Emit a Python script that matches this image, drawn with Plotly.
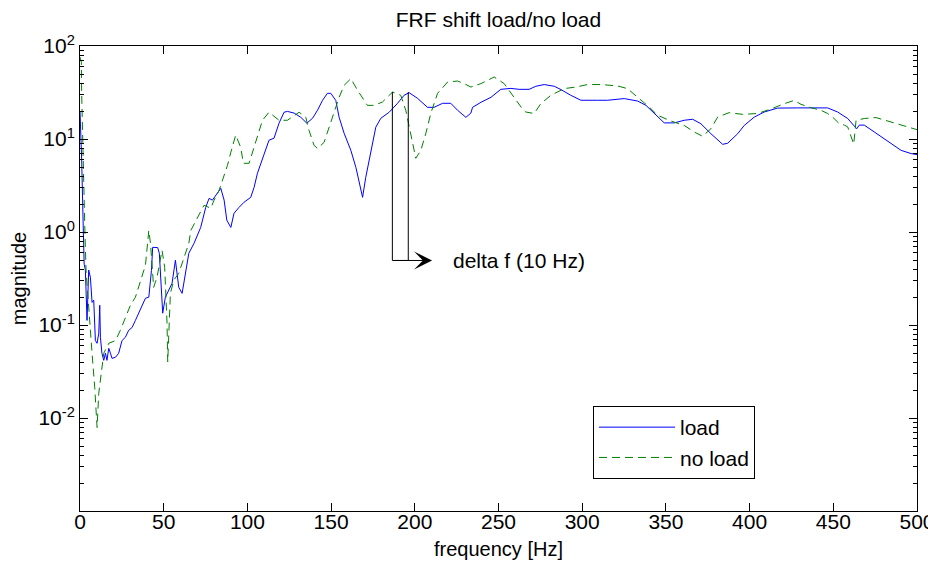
import math
import plotly.graph_objects as go

# ---- data ----
freq_load = [0, 1, 2, 2.5, 3.2, 4.2, 5.2, 6.2, 7.2, 8.2, 9.2, 10.2, 11.2, 11.8, 12.2, 13.1, 14.2,
             15.2, 16.1, 17.2, 18.2, 19.1, 21.2, 23.1, 25.1, 27.1, 29.1, 31.1, 33.1, 35.1, 37.1,
             39.1, 41.1, 42.7, 43.4, 45.1, 46.4, 47.4, 48.4, 49.4, 51.0, 53.0, 55.0, 57.0, 59.0,
             61.0, 63.0, 65.0, 68.1, 72.1, 75.1, 77.1, 79.1, 81.1, 84.1, 86.1, 87.7, 90.1, 92.0,
             95.0, 98.0, 102.0, 104.0, 106.0, 108.0, 111.0, 112.9, 115.9, 118.9, 121.9, 123.9,
             127.9, 131.9, 135.5, 138.9, 141.9, 144.9, 147.8, 149.8, 152.8, 154.8, 157.8, 161.8,
             164.8, 166.7, 168.8, 170.7, 173.7, 176.7, 179.7, 184.7, 189.7, 193.6, 196.6, 201.6,
             207.6, 211.5, 216.6, 221.5, 225.5, 230.5, 233.5, 234.5, 239.5, 245.5, 251.4, 257.4,
             262.3, 268.3, 272.3, 277.3, 283.3, 287.3, 293.2, 299.2, 309.2, 315.2, 325.1, 333.1,
             338.1, 343.0, 349.0, 355.0, 360.9, 366.0, 370.9, 376.9, 383.9, 386.9, 392.9, 396.8,
             402.8, 408.7, 416.7, 428.7, 446.6, 452.6, 458.6, 463.0, 464.0, 465.5, 468.5, 474.5,
             484.5, 490.5, 496.5, 500]
mag_load = [20, 6, 1.0, 0.45, 0.39, 0.112, 0.39, 0.326, 0.175, 0.185, 0.068, 0.0636, 0.0814, 0.163,
            0.0738, 0.0497, 0.0417, 0.0497, 0.0417, 0.0561, 0.0497, 0.0438, 0.045, 0.0497, 0.068,
            0.0738, 0.0877, 0.094, 0.112, 0.134, 0.163, 0.194, 0.199, 0.387, 0.684, 0.68, 0.68,
            0.59, 0.303, 0.134, 0.199, 0.236, 0.281, 0.497, 0.254, 0.219, 0.36, 0.59, 0.755, 1.12,
            1.84, 2.3, 2.2, 2.48, 2.95, 2.2, 1.34, 1.12, 1.59, 1.84, 2.09, 2.36, 3.03, 4.28, 5.48,
            7.55, 9.7, 10.2, 14.8, 19.4, 19.8, 19.0, 17.1, 14.8, 16.7, 20.4, 26.1, 31.0, 31.0, 26.0,
            17.1, 11.5, 7.55, 4.96, 3.34, 2.36, 3.87, 7.55, 13.4, 16.7, 19.4, 24.2, 29.5, 31.5,
            27.4, 21.9, 21.9, 24.2, 24.2, 20.4, 17.1, 19.0, 21.9, 24.8, 28.1, 34.2, 35.0, 34.2,
            34.2, 36.9, 38.5, 36.9, 34.0, 29.5, 26.1, 26.1, 26.1, 27.2, 25.6, 23.0, 18.8, 14.9,
            14.9, 15.9, 16.3, 14.6, 11.4, 8.77, 9.0, 11.4, 14.0, 17.2, 19.5, 21.5, 21.6, 21.6,
            19.5, 16.6, 13.5, 12.9, 14.1, 14.1, 11.9, 8.9, 7.55, 6.97, 6.8]

freq_noload = [0, 0.8, 1.0, 1.2, 1.6, 2.2, 2.6, 2.8, 3.0, 3.6, 5.6, 7.2, 8.8, 9.6, 10.2, 11.2, 12.2,
               13.1, 14.2, 17.2, 21.2, 24.1, 27.1, 30.1, 33.1, 36.1, 39.1, 41.1, 42.1, 44.0, 46.0,
               49.0, 50.6, 52.0, 52.4, 54.0, 56.0, 59.0, 62.0, 65.0, 66.2, 70.2, 74.1, 78.1, 80.1,
               83.1, 85.1, 88.1, 90.1, 93.0, 96.0, 97.6, 101.0, 104.0, 107.0, 109.0, 112.9, 118.9,
               123.9, 130.9, 134.9, 136.8, 139.8, 141.9, 145.8, 148.8, 151.8, 154.8, 157.8, 161.8,
               165.8, 171.7, 175.7, 180.7, 186.7, 191.6, 194.6, 197.6, 199.6, 200.6, 203.6, 206.6,
               209.6, 213.6, 219.6, 225.5, 229.5, 233.5, 239.5, 247.4, 253.4, 259.4, 264.0, 266.3,
               271.3, 275.3, 281.3, 289.2, 296.2, 303.2, 311.2, 321.1, 327.1, 334.0, 340.0, 345.0,
               353.0, 360.9, 366.9, 371.9, 376.9, 380.9, 387.8, 395.8, 404.8, 412.7, 420.7, 426.7,
               430.7, 436.7, 442.6, 446.6, 449.6, 453.6, 456.6, 458.6, 462.2, 463.6, 468.5, 475.5,
               484.5, 492.4, 500]
mag_noload = [76, 67, 31, 20.4, 10.4, 4.96, 2.19, 0.97, 0.9, 0.39, 0.112, 0.0497, 0.0214, 0.0112,
              0.0079, 0.0184, 0.0254, 0.0387, 0.0497, 0.0636, 0.068, 0.0877, 0.121, 0.163, 0.199,
              0.303, 0.439, 1.04, 0.755, 0.254, 0.326, 0.635, 0.417, 0.104, 0.04, 0.219, 0.303, 0.36,
              0.535, 0.755, 1.04, 1.44, 1.94, 1.8, 2.2, 2.81, 3.6, 5.21, 7.2, 11.0, 8.15, 5.48,
              5.48, 8.15, 11.5, 15.9, 19.4, 15.9, 15.9, 19.4, 17.1, 12.4, 8.55, 7.9, 9.2, 13.4, 19.0,
              28.1, 37.8, 44.6, 33.4, 23.0, 23.0, 25.0, 32.0, 29.5, 20.4, 11.5, 7.55, 6.2, 7.55,
              11.5, 19.0, 31.0, 41.0, 42.0, 39.4, 36.2, 39.4, 46.4, 39.4, 28.3, 21.4, 19.5, 18.8,
              24.0, 29.5, 34.8, 36.2, 38.5, 38.5, 37.2, 34.8, 27.2, 22.1, 18.0, 15.6, 14.0, 11.9,
              10.7, 12.9, 17.2, 19.2, 18.4, 18.8, 21.0, 24.0, 26.0, 23.6, 21.7, 20.4, 18.8, 17.2,
              14.6, 14.1, 13.5, 8.8, 15.9, 16.6, 17.0, 15.2, 13.7, 12.6]

series_names = ["load", "no load"]
x_ticks = [0, 50, 100, 150, 200, 250, 300, 350, 400, 450, 500]
y_ticks = [0.01, 0.1, 1, 10, 100]
y_ticktext = ["10<sup>-2</sup>", "10<sup>-1</sup>", "10<sup>0</sup>", "10<sup>1</sup>", "10<sup>2</sup>"]

# delta-f annotation (frequencies in Hz, magnitudes)
delta_f_low = 186.6
delta_f_high = 196.1
delta_top = 32.0
delta_level = 0.494
arrow_tip_f = 210.3
delta_text_f = 221.8
delta_text = "delta f (10 Hz)"

FONT = "Liberation Sans, Arial, Helvetica, sans-serif"

# page body has an 8px margin, so the figure is sized to fit the window
W, H = 928, 561

fig = go.Figure()
fig.add_trace(go.Scatter(x=freq_load, y=mag_load, mode="lines", name=series_names[0],
                         line=dict(color="#0000ff", width=1)))
fig.add_trace(go.Scatter(x=freq_noload, y=mag_noload, mode="lines", name=series_names[1],
                         line=dict(color="#008000", width=1, dash="8px,5px")))
fig.add_trace(go.Scatter(x=[delta_f_low, delta_f_low, delta_f_high, delta_f_high],
                         y=[delta_top, delta_level, delta_level, delta_top],
                         mode="lines", line=dict(color="black", width=1), showlegend=False,
                         hoverinfo="skip"))

lvl = math.log10(delta_level)
fig.add_annotation(x=arrow_tip_f, y=lvl, ax=delta_f_low, ay=lvl, xref="x", yref="y",
                   axref="x", ayref="y", showarrow=True, arrowhead=3, arrowsize=3,
                   arrowwidth=1, arrowcolor="black", text="")
fig.add_annotation(x=delta_text_f, y=lvl, xref="x", yref="y", text=delta_text, showarrow=False,
                   xanchor="left", yanchor="middle", font=dict(size=21, color="black", family=FONT))

minor_vals = [m * 10 ** k for k in range(-3, 2) for m in range(2, 10)]

ml, mr, mt, mb = 72, 19, 38, 58
pw, ph = W - ml - mr, H - mt - mb

fig.update_layout(
    width=W, height=H,
    margin=dict(l=ml, r=mr, t=mt, b=mb),
    paper_bgcolor="white", plot_bgcolor="white",
    font=dict(family=FONT, size=21, color="black"),
    title=dict(text="FRF shift load/no load", x=0.5, xref="paper", y=1 - 12 / H,
               yref="container", yanchor="middle", font=dict(size=21)),
    legend=dict(x=(593 - 80) / pw, y=(503 - 398) / ph, xanchor="left", yanchor="top",
                bgcolor="white", bordercolor="black", borderwidth=1, font=dict(size=21),
                itemwidth=76, tracegroupgap=0),
    showlegend=True,
)
fig.update_xaxes(range=[0, 500], tickvals=x_ticks, ticks="inside", ticklen=8, tickcolor="black",
                 showline=True, linecolor="black", linewidth=1, mirror="ticks", showgrid=False,
                 zeroline=False, automargin=False, ticklabelstandoff=-8,
                 tickfont=dict(size=21),
                 title=dict(text="frequency [Hz]", standoff=9, font=dict(size=20)))
fig.update_yaxes(type="log", range=[-3, 2], tickvals=y_ticks, ticktext=y_ticktext,
                 ticks="inside", ticklen=8, tickcolor="black", showline=True, linecolor="black",
                 linewidth=1, mirror="ticks", showgrid=False, zeroline=False, automargin=False,
                 tickfont=dict(size=21),
                 minor=dict(tickvals=minor_vals, ticks="inside", ticklen=4, tickcolor="black",
                            showgrid=False),
                 title=dict(text="magnitude", standoff=8, font=dict(size=20)))

fig.write_html("out.html")
